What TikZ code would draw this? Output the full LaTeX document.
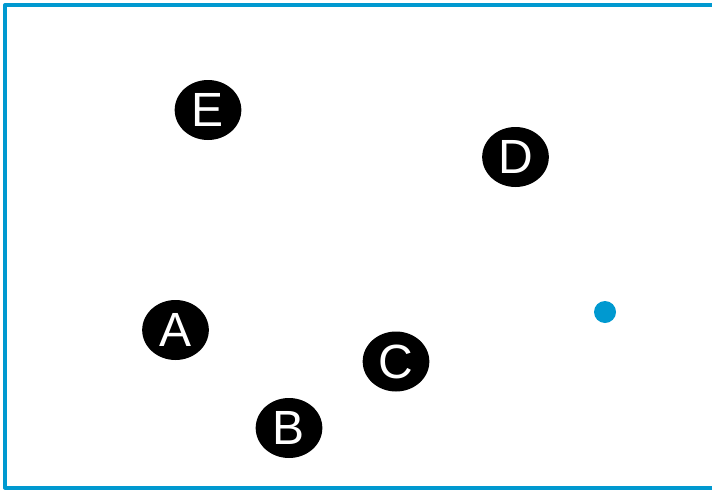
\documentclass[tikz,border=0pt]{standalone}
\usepackage{fontspec}
\setmainfont{Liberation Sans}
\usetikzlibrary{shapes.geometric}
\definecolor{framblue}{RGB}{0,153,208}
\tikzset{
  letnode/.style={ellipse,fill=black,text=white,inner sep=0pt,minimum width=50pt,minimum height=45pt,font=\fontsize{36}{36}\selectfont}
}
\begin{document}
\begin{tikzpicture}[line cap=round,line join=round,x=0.75pt,y=-0.75pt]
	\useasboundingbox (0,0) rectangle (712,489);
	\clip (0,0) rectangle (712,489);
	\draw [line width=3pt,color=framblue,line cap=butt] (730,5)-- (5,5)-- (5,487.5)-- (730,487.5);
	\node [letnode] (nodeE) at (208,110) {E};
	\node [letnode] (nodeD) at (515.5,157) {D};
	\node [letnode] (nodeA) at (175.5,330) {A};
	\node [letnode] (nodeC) at (396,361.5) {C};
	\node [letnode] (nodeB) at (289,428) {B};
	\fill [color=framblue] (605,312) circle (11);
\end{tikzpicture}
\end{document}
